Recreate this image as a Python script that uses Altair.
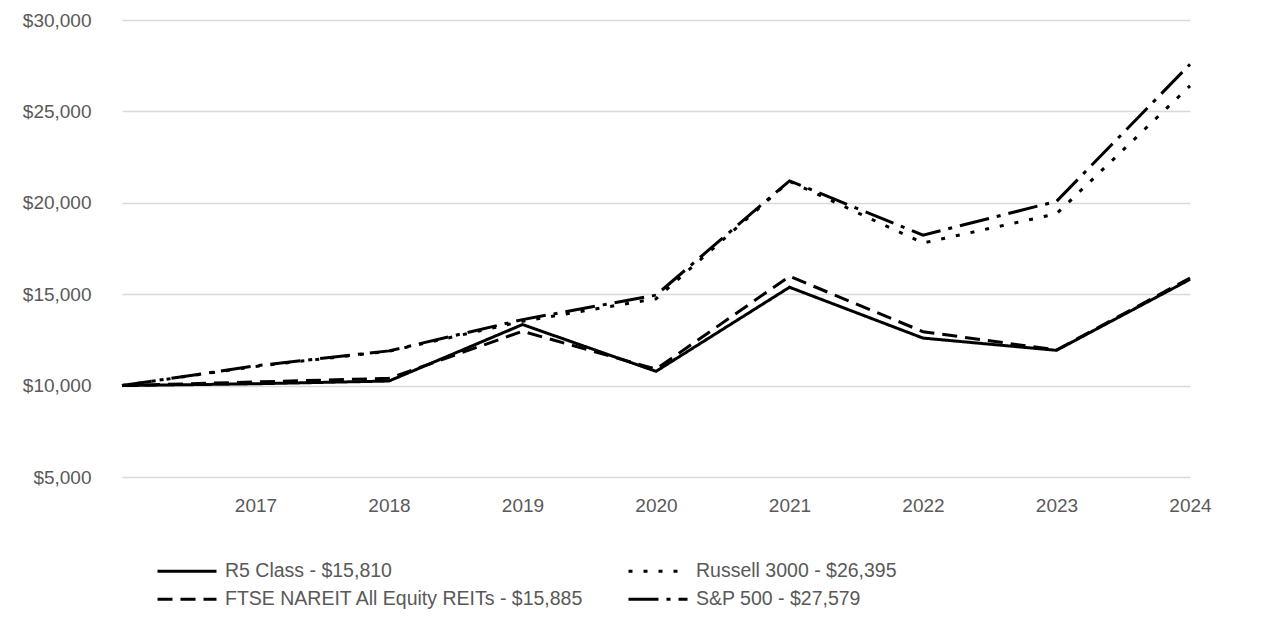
import altair as alt
import pandas as pd

years = ["2016", "2017", "2018", "2019", "2020", "2021", "2022", "2023", "2024"]
r5_class = [10000, 10100, 10250, 13340, 10780, 15380, 12600, 11930, 15810]
ftse_nareit = [10000, 10200, 10400, 12970, 10900, 15980, 12950, 11950, 15885]
russell_3000 = [10000, 11050, 11880, 13520, 14750, 21180, 17800, 19400, 26395]
sp_500 = [10000, 11080, 11900, 13610, 14950, 21200, 18230, 20080, 27579]

row1_names = ["R5 Class - $15,810", "Russell 3000 - $26,395"]
row2_names = ["FTSE NAREIT All Equity REITs - $15,885", "S&P 500 - $27,579"]
row1_values = [r5_class, russell_3000]
row2_values = [ftse_nareit, sp_500]
row1_dashes = [[1, 0], [4, 11]]
row2_dashes = [[15, 8], [30, 8, 4, 8]]
y_ticks = [5000, 10000, 15000, 20000, 25000, 30000]


def make_df(names, values):
    rows = []
    for name, vals in zip(names, values):
        for yr, v in zip(years, vals):
            rows.append({"Year": yr, "Value": v, "Series": name})
    return pd.DataFrame(rows)


font = "Liberation Sans"
text_color = "#595959"

x_enc = alt.X(
    "Year:O",
    sort=years,
    scale=alt.Scale(type="point", padding=0),
    axis=alt.Axis(
        title=None, labelAngle=0, domain=False, ticks=False, grid=False,
        labelExpr="datum.value == '2016' ? '' : datum.value",
        labelFont=font, labelFontSize=19, labelColor=text_color,
        labelPadding=19,
    ),
)
y_enc = alt.Y(
    "Value:Q",
    scale=alt.Scale(domain=[5000, 30000], nice=False, zero=False),
    axis=alt.Axis(
        title=None, values=y_ticks, format="$,.0f", domain=False, ticks=False,
        grid=True, gridColor="#d9d9d9", gridWidth=1.5,
        labelFont=font, labelFontSize=19, labelColor=text_color,
        labelPadding=31,
    ),
)


def legend(y, col_pad):
    return alt.Legend(
        title=None, orient="none", legendX=34, legendY=y,
        direction="horizontal",
        symbolType="stroke", symbolSize=3481, symbolStrokeWidth=3,
        symbolStrokeColor="black",
        labelFont=font, labelFontSize=19.5, labelColor=text_color,
        labelOffset=7, columnPadding=col_pad, labelLimit=600,
    )


layer1 = alt.Chart(make_df(row1_names, row1_values)).mark_line(strokeWidth=3, color="black").encode(
    x=x_enc, y=y_enc,
    strokeDash=alt.StrokeDash(
        "Series:N",
        scale=alt.Scale(domain=row1_names, range=row1_dashes),
        legend=legend(520, 230),
    ),
    order=alt.Order("Year:O"),
)
layer2 = alt.Chart(make_df(row2_names, row2_values)).mark_line(strokeWidth=3, color="black").encode(
    x=x_enc, y=y_enc,
    strokeDash=alt.StrokeDash(
        "Series:N",
        scale=alt.Scale(domain=row2_names, range=row2_dashes),
        legend=legend(548, 38),
    ),
    order=alt.Order("Year:O"),
)

chart = alt.layer(layer1, layer2).resolve_scale(
    strokeDash="independent"
).resolve_legend(
    strokeDash="independent"
).properties(
    width=1068,
    height=457,
    autosize=alt.AutoSizeParams(type="none"),
    padding={"left": 114, "top": 12, "right": 88, "bottom": 155},
).configure_view(stroke=None)

chart.save("out.html", embed_options={"renderer": "svg", "actions": False})
